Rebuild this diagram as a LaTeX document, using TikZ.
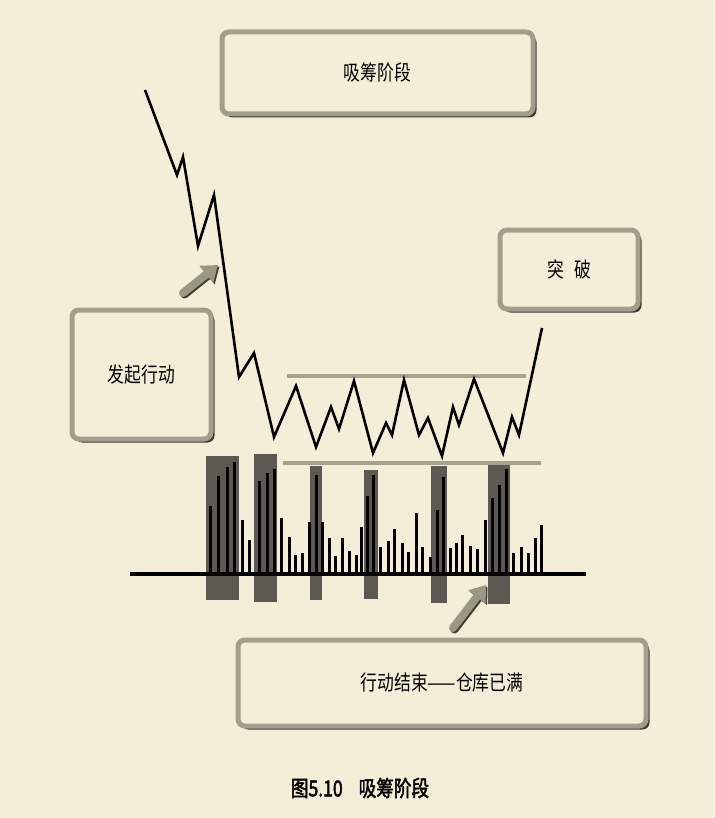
\documentclass[tikz,border=0pt]{standalone}
\usepackage{fontspec}
\newfontfamily\cjk[FakeStretch=0.8]{Noto Sans CJK SC}
\newfontfamily\cjkbold[FakeStretch=0.8,FakeBold=2]{Noto Sans CJK SC}
\usetikzlibrary{arrows.meta,shadows}
\definecolor{paper}{HTML}{F4EED8}
\definecolor{frame}{HTML}{A19E8C}
\definecolor{shade}{HTML}{3F3D36}
\definecolor{zonegrey}{HTML}{5B5951}
\definecolor{levelgrey}{HTML}{A6A290}
\definecolor{pointergrey}{HTML}{9A9785}

\begin{document}
\begin{tikzpicture}[
  x=1pt,y=-1pt,
  font=\cjk\fontsize{21}{24}\selectfont,
  block/.style={draw=frame,line width=5pt,rounded corners=7pt,fill=paper,
    drop shadow={shadow xshift=3.5pt,shadow yshift=-3.5pt,fill=shade,opacity=1}},
  price/.style={line width=2.6pt,line join=miter},
  level/.style={draw=levelgrey,line width=4.5pt},
  volbar/.style={line width=3pt},
  zone/.style={fill=zonegrey},
  pointer/.style={-{Triangle[length=15pt,width=21pt]},line width=8pt,line cap=round,draw=pointergrey},
  pointershade/.style={pointer,draw=shade,transform canvas={shift={(1.5pt,-1.5pt)}}}]

  \path[use as bounding box,fill=paper] (0,0) rectangle (714,818);

  % Position the boxes
  \node[block,minimum width=311pt,minimum height=82pt] (ACC) at (377.5,73) {吸筹阶段};
  \node[block,minimum width=138pt,minimum height=79pt] (BRK) at (569,269.5) {突\hspace{10pt}破};
  \node[block,minimum width=139pt,minimum height=129pt] (LCH) at (141.5,374.5) {发起行动};
  \node[block,minimum width=408pt,minimum height=86pt] (END) at (442,683) {行动结束——仓库已满};
  \node[font=\cjkbold\fontsize{22}{24}\selectfont] (CAP) at (360,788) {图5.10\hspace{16pt}吸筹阶段};

  % Volume zones and bars
  \foreach \xa/\ya/\xb/\yb in {206/456/239/600,254/454/277/602,310/466/322/600,
      364/470/378/599,431/466/447/603,488/463/510/604}
    \fill[zone] (\xa,\ya) rectangle (\xb,\yb);
  \foreach \x/\top in {210/506,218/476,227/467,234/462,242/520,249/540,259/481,267/473,
      274/469,281/518,289/537,295/555,302/553,309/522,316/475,322/522,329/538,335/556,
      342/538,349/551,356/555,361/527,367/496,373/475,380/547,388/541,394/529,402/543,
      408/552,416/513,422/547,430/557,437/510,443/477,450/548,456/543,462/535,470/546,
      477/549,485/520,492/498,499/485,506/469,513/553,521/547,528/553,535/538,541/525}
    \draw[volbar] (\x,574) -- (\x,\top);
  \draw[line width=4pt] (130,574) -- (586,574);

  % Trading range
  \draw[level] (287,376) -- (526,376);
  \draw[level] (283,463) -- (541,463);

  % Price
  \draw[price] plot coordinates {(145,90) (177,175) (183,157) (198,246) (214,195)
    (239,377) (254,353) (274,437) (296,386) (316,447) (331,407) (339,429) (354,381)
    (373,453) (386,423) (392,435) (404,380) (419,435) (428,418) (442,456) (453,407)
    (459,425) (474,379) (503,453) (512,417) (519,435) (542,328)};

  % Draw the pointers
  \coordinate (LCHtail) at (183,293);
  \coordinate (LCHtip) at (218,265);
  \coordinate (ENDtail) at (453,628);
  \coordinate (ENDtip) at (486,585);
  \draw[pointershade] (LCHtail) -- (LCHtip);
  \draw[pointer] (LCHtail) -- (LCHtip);
  \draw[pointershade] (ENDtail) -- (ENDtip);
  \draw[pointer] (ENDtail) -- (ENDtip);
\end{tikzpicture}
\end{document}
